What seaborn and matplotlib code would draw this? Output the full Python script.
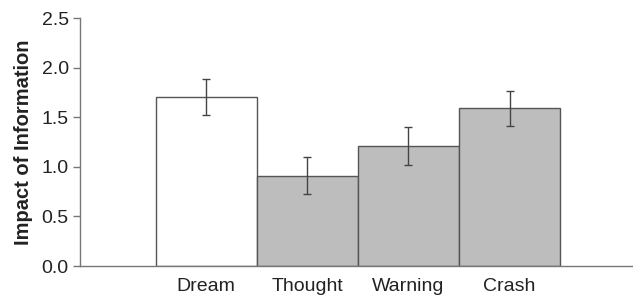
import matplotlib
matplotlib.use("Agg")
import matplotlib.pyplot as plt
import seaborn as sns
import pandas as pd

categories = ["Dream", "Thought", "Warning", "Crash"]
values = [1.70, 0.91, 1.21, 1.59]
err_upper = [1.885, 1.10, 1.40, 1.76]
err_lower = [1.52, 0.73, 1.02, 1.41]
colors = ["#ffffff", "#bdbdbd", "#bdbdbd", "#bdbdbd"]

sns.set_style("white")
plt.rcParams["font.family"] = ["Liberation Sans", "DejaVu Sans"]

df = pd.DataFrame({"cat": categories, "val": values})

fig = plt.figure(figsize=(6.33, 2.96), dpi=100)
ax = fig.add_axes([0.126, 0.101, 0.874, 0.838])

sns.barplot(data=df, x="cat", y="val", hue="cat", palette=colors, legend=False,
            width=1.0, edgecolor="#555555", linewidth=1.0, errorbar=None, ax=ax)

yerr = [[v - lo for v, lo in zip(values, err_lower)],
        [hi - v for v, hi in zip(values, err_upper)]]
ax.errorbar(range(len(categories)), values, yerr=yerr, fmt="none",
            ecolor="#444444", elinewidth=1.0, capsize=3, capthick=1.0)

ax.set_xlim(-1.25, 4.22)
ax.set_ylim(0, 2.5)
ax.set_yticks([0, 0.5, 1.0, 1.5, 2.0, 2.5])
ax.set_yticklabels(["0.0", "0.5", "1.0", "1.5", "2.0", "2.5"])
ax.set_xlabel("")
ax.set_ylabel("Impact of Information", fontsize=14.5, fontweight="bold", labelpad=6,
              color="#222222")

sns.despine(ax=ax)
for s in ["left", "bottom"]:
    ax.spines[s].set_color("#777777")
    ax.spines[s].set_linewidth(1.0)

ax.tick_params(axis="y", which="major", left=True, length=5, width=1, color="#777777",
               labelsize=14, pad=3, labelcolor="#222222")
ax.tick_params(axis="x", bottom=False, labelsize=14, pad=5, labelcolor="#222222")

fig.savefig("out.png", dpi=100)
